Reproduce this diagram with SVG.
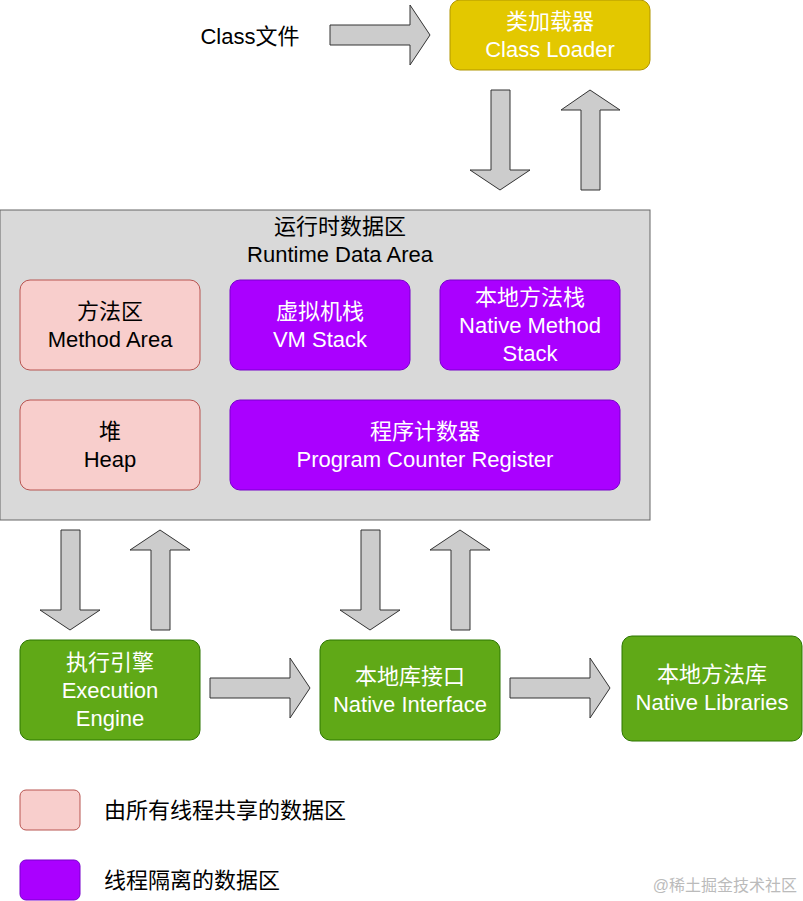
<svg xmlns="http://www.w3.org/2000/svg" width="803" height="901" viewBox="0 0 803 901">
<style>
text{font-family:"Liberation Sans","Noto Sans CJK SC",sans-serif;font-size:22px;text-anchor:middle}
.w{fill:#fff}
.arr{fill:#cccccc;stroke:#333;stroke-width:1}
.pink{fill:#f8cecc;stroke:#b85450}
.pur{fill:#aa00ff;stroke:#7700cc}
.grn{fill:#60a917;stroke:#2d7600}
</style>
<rect width="803" height="901" fill="#fff"/>
<g id="connectors">
<polygon class="arr" points="330,25 410,25 410,5 430,35 410,65 410,45 330,45"/>
<polygon class="arr" points="491,90 510,90 510,170 530,170 500,190 470,170 491,170"/>
<polygon class="arr" points="581,190 600,190 600,110 620,110 590,90 561,110 581,110"/>
<polygon class="arr" points="61,530 80,530 80,610 100,610 70,630 40,610 61,610"/>
<polygon class="arr" points="151,630 170,630 170,550 190,550 160,530 130,550 151,550"/>
<polygon class="arr" points="361,530 380,530 380,610 400,610 370,630 340,610 361,610"/>
<polygon class="arr" points="451,630 470,630 470,550 490,550 460,530 430,550 451,550"/>
<polygon class="arr" points="210,678 290,678 290,658 310,688 290,718 290,698 210,698"/>
<polygon class="arr" points="510,678 590,678 590,658 610,688 590,718 590,698 510,698"/>
</g>
<g id="classfile"><text x="250" y="44" style="text-anchor:middle">Class文件</text></g>
<g id="loader"><rect x="450" y="0" width="200" height="70" rx="10" fill="#e3c800" stroke="#b09500"/><text class="w" x="550" y="29">类加载器</text><text class="w" x="550" y="57">Class Loader</text></g>
<g id="runtime"><rect x="0" y="210" width="650" height="310" fill="#d9d9d9" stroke="#666"/><text x="340" y="234">运行时数据区</text><text x="340" y="262">Runtime Data Area</text></g>
<g id="method"><rect class="pink" x="20" y="280" width="180" height="90" rx="10"/><text x="110" y="319">方法区</text><text x="110" y="347">Method Area</text></g>
<g id="vmstack"><rect class="pur" x="230" y="280" width="180" height="90" rx="10"/><text class="w" x="320" y="319">虚拟机栈</text><text class="w" x="320" y="347">VM Stack</text></g>
<g id="nstack"><rect class="pur" x="440" y="280" width="180" height="90" rx="10"/><text class="w" x="530" y="305">本地方法栈</text><text class="w" x="530" y="333">Native Method</text><text class="w" x="530" y="361">Stack</text></g>
<g id="heap"><rect class="pink" x="20" y="400" width="180" height="90" rx="10"/><text x="110" y="439">堆</text><text x="110" y="467">Heap</text></g>
<g id="pc"><rect class="pur" x="230" y="400" width="390" height="90" rx="10"/><text class="w" x="425" y="439">程序计数器</text><text class="w" x="425" y="467">Program Counter Register</text></g>
<g id="engine"><rect class="grn" x="20" y="640" width="180" height="100" rx="10"/><text class="w" x="110" y="670">执行引擎</text><text class="w" x="110" y="698">Execution</text><text class="w" x="110" y="726">Engine</text></g>
<g id="ninterface"><rect class="grn" x="320" y="640" width="180" height="100" rx="10"/><text class="w" x="410" y="684">本地库接口</text><text class="w" x="410" y="712">Native Interface</text></g>
<g id="nlib"><rect class="grn" x="622" y="636" width="180" height="105" rx="10"/><text class="w" x="712" y="682">本地方法库</text><text class="w" x="712" y="710">Native Libraries</text></g>
<g id="legend1"><rect class="pink" x="20" y="790" width="60" height="40" rx="6"/><text x="104" y="818" style="text-anchor:start">由所有线程共享的数据区</text></g>
<g id="legend2"><rect class="pur" x="20" y="860" width="60" height="40" rx="6"/><text x="104" y="888" style="text-anchor:start">线程隔离的数据区</text></g>
<text x="797" y="891" style="text-anchor:end;font-size:16px;fill:#bbb">@稀土掘金技术社区</text>
</svg>
